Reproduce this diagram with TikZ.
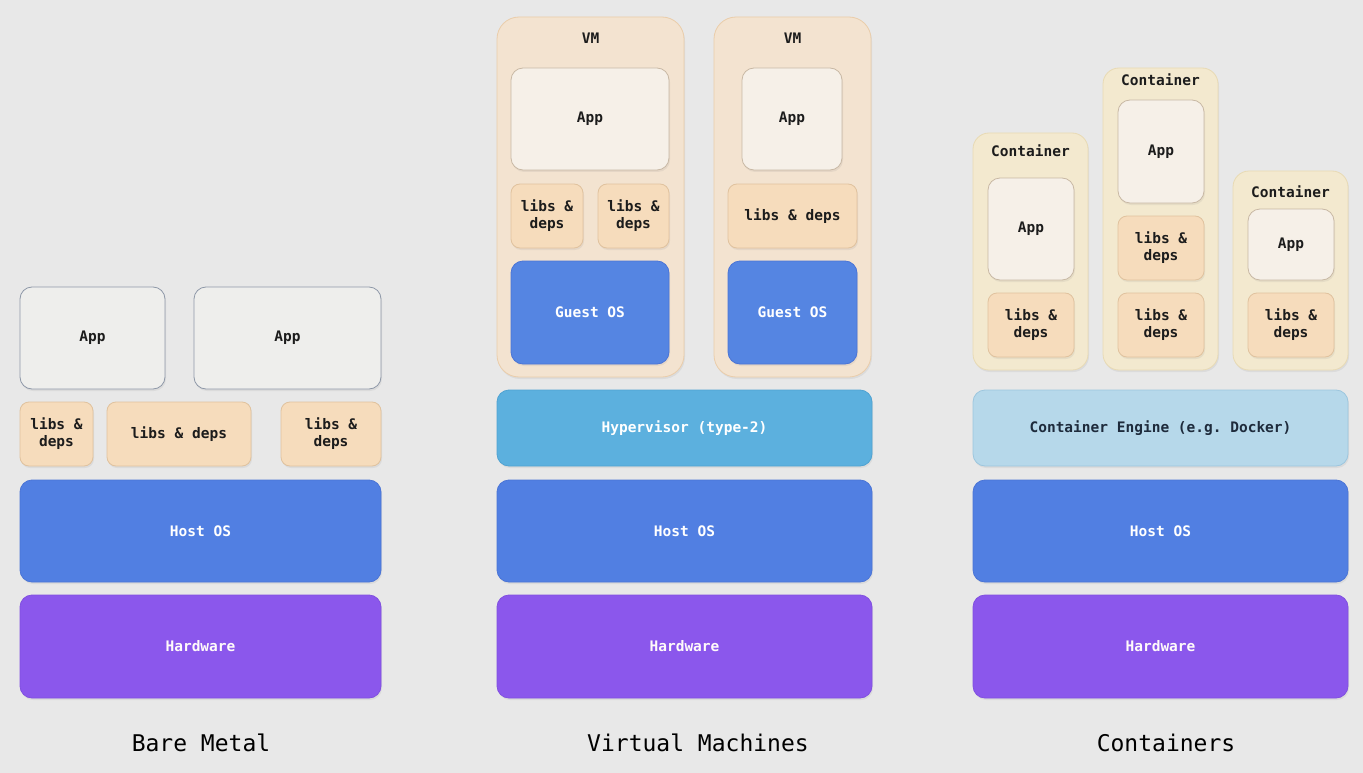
\documentclass[tikz,border=0pt]{standalone}
\usepackage{fontspec}
\setmonofont{DejaVu Sans Mono}
\usetikzlibrary{shadows}
\definecolor{bg}{HTML}{E8E8E8}
\definecolor{appfill}{HTML}{EEEEEC}
\definecolor{appdraw}{HTML}{8E98A8}
\definecolor{vappfill}{HTML}{F6F0E8}
\definecolor{vappdraw}{HTML}{C8B8A4}
\definecolor{libfill}{HTML}{F6DCBC}
\definecolor{libdraw}{HTML}{E0C29E}
\definecolor{hostfill}{HTML}{517FE2}
\definecolor{hostdraw}{HTML}{4A74D6}
\definecolor{guestfill}{HTML}{5585E2}
\definecolor{hwfill}{HTML}{8B57EC}
\definecolor{hwdraw}{HTML}{8150E0}
\definecolor{vmfill}{HTML}{F3E3D0}
\definecolor{vmdraw}{HTML}{EACDAA}
\definecolor{ctfill}{HTML}{F3E9CF}
\definecolor{ctdraw}{HTML}{E8DAB4}
\definecolor{hypfill}{HTML}{5CB0DE}
\definecolor{hypdraw}{HTML}{4FA2D2}
\definecolor{engfill}{HTML}{B6D8EA}
\definecolor{engdraw}{HTML}{9CC6DE}
\definecolor{darktxt}{HTML}{1C1C1C}
\definecolor{navytxt}{HTML}{1E2B3C}
\newcommand\mybox[7]{\node[#2, minimum width={#5-#3}, minimum height={#6-#4}] (#1) at ({(#3+#5)/2},{(#4+#6)/2}) {#7};}
\tikzset{
  x=1pt, y=-1pt,
  base/.style={rectangle, rounded corners=12pt, line width=0.8pt, inner sep=0pt, align=center,
    font=\ttfamily\bfseries\fontsize{14.5}{17}\selectfont,
    drop shadow={opacity=0.12, shadow xshift=1pt, shadow yshift=-2pt}},
  appbox/.style={base, fill=appfill, draw=appdraw, text=darktxt},
  vappbox/.style={base, fill=vappfill, draw=vappdraw, text=darktxt},
  libbox/.style={base, rounded corners=9pt, fill=libfill, draw=libdraw, text=darktxt},
  hostbox/.style={base, fill=hostfill, draw=hostdraw, text=white},
  guestbox/.style={base, fill=guestfill, draw=hostdraw, text=white},
  hwbox/.style={base, fill=hwfill, draw=hwdraw, text=white!92!pink},
  hypbox/.style={base, fill=hypfill, draw=hypdraw, text=white},
  engbox/.style={base, fill=engfill, draw=engdraw, text=navytxt},
  vmbox/.style={base, rounded corners=22pt, fill=vmfill, draw=vmdraw},
  ctbox/.style={base, rounded corners=16pt, fill=ctfill, draw=ctdraw},
  lbl/.style={font=\ttfamily\bfseries\fontsize{14.5}{17}\selectfont, text=darktxt, inner sep=0pt},
  title/.style={font=\ttfamily\fontsize{23}{26}\selectfont, text=black, inner sep=0pt}
}
\begin{document}
\begin{tikzpicture}
\fill[bg] (0,0) rectangle (1363,773);
\useasboundingbox (0,0) rectangle (1363,773);
% ---------- Bare Metal ----------
\mybox{bmApp1}{appbox}{20}{287}{165}{389}{App}
\mybox{bmApp2}{appbox}{194}{287}{381}{389}{App}
\mybox{bmLib1}{libbox}{20}{402}{93}{466}{libs \&\\deps}
\mybox{bmLib2}{libbox}{107}{402}{251}{466}{libs \& deps}
\mybox{bmLib3}{libbox}{281}{402}{381}{466}{libs \&\\deps}
\mybox{bmHost}{hostbox}{20}{480}{381}{582}{Host OS}
\mybox{bmHw}{hwbox}{20}{595}{381}{698}{Hardware}
\node[title] (bmTitle) at (201,743) {Bare Metal};
% ---------- Virtual Machines ----------
\mybox{vm1}{vmbox}{497}{17}{684}{377}{}
\mybox{vm2}{vmbox}{714}{17}{871}{377}{}
\node[lbl] (vm1lbl) at (590.5,38) {VM};
\node[lbl] (vm2lbl) at (792.5,38) {VM};
\mybox{vmApp1}{vappbox}{511}{68}{669}{170}{App}
\mybox{vmLib1}{libbox}{511}{184}{583}{248}{libs \&\\deps}
\mybox{vmLib2}{libbox}{598}{184}{669}{248}{libs \&\\deps}
\mybox{vmGuest1}{guestbox}{511}{261}{669}{364}{Guest OS}
\mybox{vmApp2}{vappbox}{742}{68}{842}{170}{App}
\mybox{vmLib3}{libbox}{728}{184}{857}{248}{libs \& deps}
\mybox{vmGuest2}{guestbox}{728}{261}{857}{364}{Guest OS}
\mybox{vmHyp}{hypbox}{497}{390}{872}{466}{Hypervisor (type-2)}
\mybox{vmHost}{hostbox}{497}{480}{872}{582}{Host OS}
\mybox{vmHw}{hwbox}{497}{595}{872}{698}{Hardware}
\node[title] (vmTitle) at (698,743) {Virtual Machines};
% ---------- Containers ----------
\mybox{ct1}{ctbox}{973}{133}{1088}{370}{}
\mybox{ct2}{ctbox}{1103}{68}{1218}{370}{}
\mybox{ct3}{ctbox}{1233}{171}{1348}{370}{}
\node[lbl] (ct1lbl) at (1030.5,151) {Container};
\node[lbl] (ct2lbl) at (1160.5,80) {Container};
\node[lbl] (ct3lbl) at (1290.5,192) {Container};
\mybox{ctApp1}{vappbox}{988}{178}{1074}{280}{App}
\mybox{ctLib1}{libbox}{988}{293}{1074}{357}{libs \&\\deps}
\mybox{ctApp2}{vappbox}{1118}{100}{1204}{203}{App}
\mybox{ctLib2}{libbox}{1118}{216}{1204}{280}{libs \&\\deps}
\mybox{ctLib3}{libbox}{1118}{293}{1204}{357}{libs \&\\deps}
\mybox{ctApp3}{vappbox}{1248}{209}{1334}{280}{App}
\mybox{ctLib4}{libbox}{1248}{293}{1334}{357}{libs \&\\deps}
\mybox{ctEng}{engbox}{973}{390}{1348}{466}{Container Engine (e.g. Docker)}
\mybox{ctHost}{hostbox}{973}{480}{1348}{582}{Host OS}
\mybox{ctHw}{hwbox}{973}{595}{1348}{698}{Hardware}
\node[title] (ctTitle) at (1166,743) {Containers};
\end{tikzpicture}
\end{document}
